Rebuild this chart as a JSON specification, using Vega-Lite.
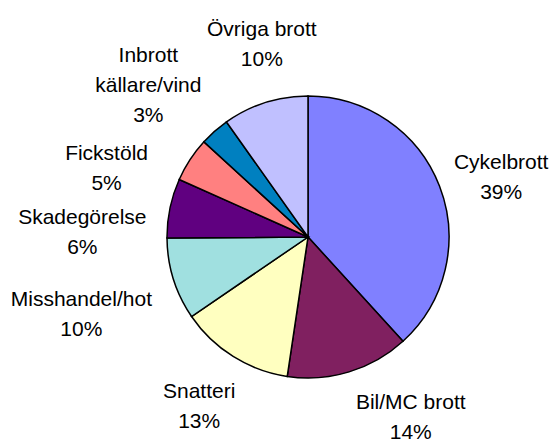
{
  "$schema": "https://vega.github.io/schema/vega-lite/v6.json",
  "width": 490,
  "height": 406,
  "padding": {"left": 63, "top": 34, "right": 0, "bottom": 0},
  "autosize": {"type": "none"},
  "background": "white",
  "view": {"stroke": null},
  "data": {
    "values": [
      {"idx": 0, "name": "Cykelbrott", "value": 38.2, "label": "Cykelbrott\n39%"},
      {"idx": 1, "name": "Bil/MC brott", "value": 14.1, "label": "Bil/MC brott\n14%"},
      {"idx": 2, "name": "Snatteri", "value": 13.1, "label": "Snatteri\n13%"},
      {"idx": 3, "name": "Misshandel/hot", "value": 9.4, "label": "Misshandel/hot\n10%"},
      {"idx": 4, "name": "Skadegörelse", "value": 6.8, "label": "Skadegörelse\n6%"},
      {"idx": 5, "name": "Fickstöld", "value": 5.1, "label": "Fickstöld\n5%"},
      {"idx": 6, "name": "Inbrott källare/vind", "value": 3.4, "label": "Inbrott\nkällare/vind\n3%"},
      {"idx": 7, "name": "Övriga brott", "value": 9.8, "label": "Övriga brott\n10%"}
    ]
  },
  "encoding": {
    "theta": {"field": "value", "type": "quantitative", "stack": true},
    "order": {"field": "idx", "type": "quantitative"}
  },
  "layer": [
    {
      "mark": {"type": "arc", "outerRadius": 141, "stroke": "black", "strokeWidth": 1.5},
      "encoding": {
        "color": {
          "field": "name",
          "type": "nominal",
          "scale": {
            "domain": ["Cykelbrott", "Bil/MC brott", "Snatteri", "Misshandel/hot", "Skadegörelse", "Fickstöld", "Inbrott källare/vind", "Övriga brott"],
            "range": ["#8080FF", "#802060", "#FFFFC0", "#A0E0E0", "#600080", "#FF8080", "#0080C0", "#C0C0FF"]
          },
          "legend": null
        }
      }
    },
    {
      "mark": {
        "type": "text",
        "radius": 205,
        "font": "Liberation Sans",
        "fontSize": 21,
        "lineBreak": "\n",
        "lineHeight": 30,
        "align": "center",
        "baseline": "middle",
        "color": "black",
        "dx": {"expr": "[2, 43, 0, -31, -25, -30, -24, 16][datum.idx]"},
        "dy": {"expr": "[0, -30, -19, 2, 23, 29, -27, -12][datum.idx]"}
      },
      "encoding": {
        "text": {"field": "label", "type": "nominal"},
        "detail": {"field": "name", "type": "nominal"}
      }
    }
  ]
}
